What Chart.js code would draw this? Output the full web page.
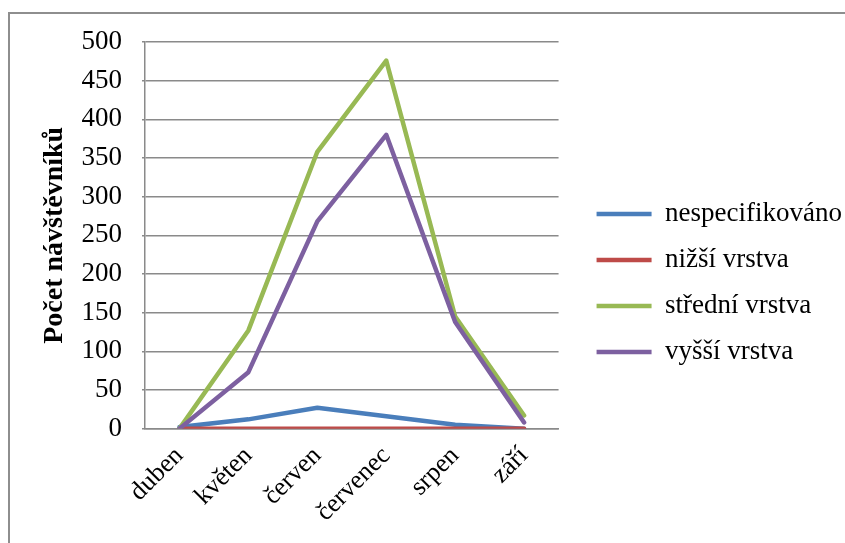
<!DOCTYPE html>
<html>
<head>
<meta charset="utf-8">
<script src="https://cdn.jsdelivr.net/npm/chart.js@4"></script>
<style>
  html, body { margin: 0; padding: 0; background: #fff; overflow: hidden; }
  .frame { position: absolute; left: 8px; top: 12px; width: 900px; height: 600px; border: 2px solid #8e8e8e; }
  .wrap { position: absolute; left: 0; top: 0; width: 845px; height: 543px; }
</style>
</head>
<body>
<div class="frame"></div>
<div class="wrap"><canvas id="chart" width="845" height="543"></canvas></div>
<script>
// Data
const months = ['duben', 'květen', 'červen', 'červenec', 'srpen', 'září'];
const nespecifikovano = [2, 12, 27, 16, 5, 0];
const nizsiVrstva = [0, 0, 0, 0, 0, 0];
const stredniVrstva = [0, 127, 358, 476, 145, 17];
const vyssiVrstva = [0, 73, 268, 380, 138, 8];
const yTicks = [0, 50, 100, 150, 200, 250, 300, 350, 400, 450, 500];

const font = "'Liberation Serif', 'Times New Roman', serif";
Chart.defaults.font.family = font;
Chart.defaults.color = '#000';

function serie(label, data, color, order) {
    return {
        label: label,
        data: data,
        borderColor: color,
        backgroundColor: color,
        borderWidth: 4.5,
        pointRadius: 0,
        pointHoverRadius: 0,
        tension: 0,
        borderCapStyle: 'round',
        borderJoinStyle: 'round',
        pointStyle: 'line',
        order: order,
    };
}

// legenda je v originále trochu dál od grafu
const legendShift = {
    id: 'legendShift',
    afterLayout(chart) {
        const lg = chart.legend;
        if (!lg) return;
        lg.left += 19;
        lg.right += 19;
        lg.top -= 4;
        lg.bottom -= 4;
    },
};

new Chart(document.getElementById('chart'), {
    type: 'line',
    data: {
        labels: months,
        datasets: [
            serie('nespecifikováno', nespecifikovano, '#4a7ebb', 4),
            serie('nižší vrstva', nizsiVrstva, '#be4b48', 3),
            serie('střední vrstva', stredniVrstva, '#98b954', 2),
            serie('vyšší vrstva', vyssiVrstva, '#7d60a0', 1),
        ],
    },
    options: {
        responsive: false,
        animation: false,
        devicePixelRatio: 1,
        layout: { padding: { left: 34, top: 42, right: 12, bottom: 11 } },
        plugins: {
            tooltip: { enabled: false },
            legend: {
                position: 'right',
                maxWidth: 320,
                labels: {
                    font: { family: font, size: 27 },
                    color: '#000',
                    usePointStyle: true,
                    pointStyleWidth: 55,
                    padding: 19,
                    sort: (a, b) => a.datasetIndex - b.datasetIndex,
                },
            },
        },
        scales: {
            x: {
                offset: true,
                grid: { display: false },
                border: { display: true, color: '#8a8a8a', width: 1.5 },
                ticks: {
                    color: '#000',
                    font: { family: font, size: 26 },
                    maxRotation: 45,
                    minRotation: 45,
                    padding: 4,
                },
            },
            y: {
                min: 0,
                max: 500,
                afterBuildTicks: (axis) => { axis.ticks = yTicks.map(v => ({ value: v })); },
                afterFit: (axis) => { axis.width = 111; },
                grid: { color: '#8a8a8a', lineWidth: 1.5, tickLength: 3 },
                border: { display: true, color: '#8a8a8a', width: 1.5 },
                ticks: {
                    color: '#000',
                    font: { family: font, size: 27 },
                    padding: 20,
                },
                title: {
                    display: true,
                    text: 'Počet návštěvníků',
                    color: '#000',
                    font: { family: font, size: 28, weight: 'bold' },
                    padding: 4,
                },
            },
        },
    },
    plugins: [legendShift],
});
</script>
</body>
</html>
